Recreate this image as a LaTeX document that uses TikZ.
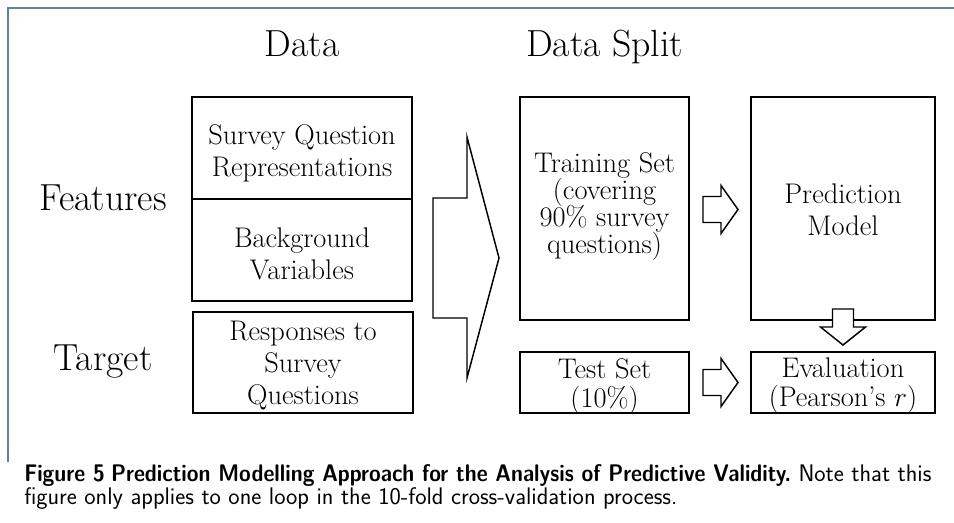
\documentclass[tikz,border=0pt]{standalone}
\usepackage{graphicx}
\begin{document}
\begin{tikzpicture}[x=0.75pt,y=-0.75pt,
  box/.style={draw, line width=1.1pt, inner sep=0pt},
  lbl/.style={inner sep=0pt, align=center},
  blk/.style={draw, line width=1.1pt, fill=white, line join=miter},
  txt/.style={font={\fontsize{21.3}{24}\selectfont\lineskiplimit -20pt}},
  txttight/.style={font={\fontsize{21.3}{20.3}\selectfont\lineskiplimit -20pt}},
  txtmid/.style={font={\fontsize{21.3}{21.5}\selectfont\lineskiplimit -20pt}},
  head/.style={font=\fontsize{28.3}{32}\selectfont, inner sep=0pt},
  capt/.style={font=\sffamily\fontsize{18}{22}\selectfont, inner sep=0pt}]
\useasboundingbox (0,0) rectangle (954,522);
\definecolor{frame}{RGB}{100,130,160}
% frame
\draw[frame, line width=1.5pt] (954,7.5) -- (7.5,7.5) -- (7.5,462);
% headings
\node[head, anchor=base] (hdata) at (302,56) {Data};
\node[head, anchor=base] (hsplit) at (604.5,56) {Data Split};
\node[head, anchor=base] (hfeat) at (103,210) {Features};
\node[head, anchor=base] (htarg) at (103,370) {Target};
% data boxes
\node[box, minimum width=220*0.75pt, minimum height=102*0.75pt] (sq) at (302,148) {};
\node[box, minimum width=220*0.75pt, minimum height=102*0.75pt] (bg) at (302,250) {};
\node[box, minimum width=220*0.75pt, minimum height=101*0.75pt] (resp) at (303,362.5) {};
\node[lbl, txt] (sqt) at ([yshift=-3.75pt]sq.center) {Survey Question\\Representations};
\node[lbl, txt] (bgt) at ([yshift=-3pt]bg.center) {Background\\Variables};
\node[lbl, txt] (respt) at ([yshift=-2.25pt]resp.center) {Responses to\\Survey\\Questions};
% split boxes
\node[box, minimum width=169*0.75pt, minimum height=223*0.75pt] (train) at (604.5,208.5) {};
\node[box, minimum width=169*0.75pt, minimum height=61*0.75pt] (test) at (604.5,382.5) {};
\node[box, minimum width=184*0.75pt, minimum height=223*0.75pt] (pred) at (843,208.5) {};
\node[box, minimum width=184*0.75pt, minimum height=61*0.75pt] (eval) at (843,382.5) {};
\node[lbl, txttight] (traint) at ([yshift=1.5pt]train.center) {Training Set\\(covering\\90\% survey\\questions)};
\node[lbl, txtmid] (testt) at ([yshift=-3pt]test.center) {Test Set\\(10\%)};
\node[lbl, txt] (predt) at ([yshift=-0.75pt]pred.center) {Prediction\\Model};
\node[lbl, txtmid] (evalt) at ([yshift=-2.25pt]eval.center) {Evaluation\\(Pearson's $r$)};
% block arrows
\draw[blk] (433,198) -- (467,198) -- (467,137) -- (499,258) -- (467,378) -- (467,318) -- (433,318) -- cycle;
\draw[blk] (703,196.5) -- (721,196.5) -- (721,185.5) -- (738,209.5) -- (721,233.5) -- (721,222.5) -- (703,222.5) -- cycle;
\draw[blk] (703,369.5) -- (721,369.5) -- (721,358.5) -- (738,382.5) -- (721,406.5) -- (721,395.5) -- (703,395.5) -- cycle;
\draw[blk] (832.5,309) -- (853.5,309) -- (853.5,327) -- (865.5,327) -- (843,345) -- (820.5,327) -- (832.5,327) -- cycle;
% caption
\node[capt, anchor=base west] (cap1) at (24,481) {\scalebox{0.888}[1]{\bfseries Figure 5\hspace{0.3em}Prediction Modelling Approach for the Analysis of Predictive Validity.} Note that this};
\node[capt, anchor=base west] (cap2) at (24,504) {figure only applies to one loop in the 10-fold cross-validation process.};
\end{tikzpicture}
\end{document}
